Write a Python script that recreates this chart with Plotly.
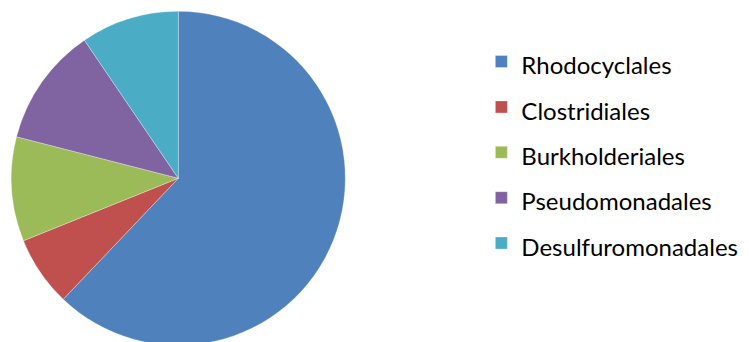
import plotly.graph_objects as go

labels = ["Rhodocyclales", "Clostridiales", "Burkholderiales", "Pseudomonadales", "Desulfuromonadales"]
values = [62.1, 6.8, 10.1, 11.5, 9.5]
colors = ["#4F81BD", "#C0504D", "#9BBB59", "#8064A2", "#4BACC6"]

W, H = 749, 342
cx, cy, r = 170.3, 170.3, 167

fig = go.Figure(go.Pie(
    labels=[f'<span style="font-size:24px">{l}</span>' for l in labels],
    values=values,
    sort=False,
    direction="clockwise",
    rotation=0,
    textinfo="none",
    marker=dict(colors=colors, line=dict(color="rgba(255,255,255,0.5)", width=0.6)),
    domain=dict(x=[(cx - r) / W, (cx + r) / W], y=[1 - (cy + r) / H, 1 - (cy - r) / H]),
))

fig.update_layout(
    width=W, height=H,
    margin=dict(l=0, r=0, t=0, b=0),
    paper_bgcolor="white",
    plot_bgcolor="white",
    showlegend=True,
    legend=dict(
        x=0.632, y=0.9245, xanchor="left", yanchor="top",
        font=dict(family="Lato, Open Sans, sans-serif", size=32.6, color="#000000"),
        bgcolor="rgba(0,0,0,0)",
        traceorder="normal",
    ),
)

fig.write_html("out.html")
